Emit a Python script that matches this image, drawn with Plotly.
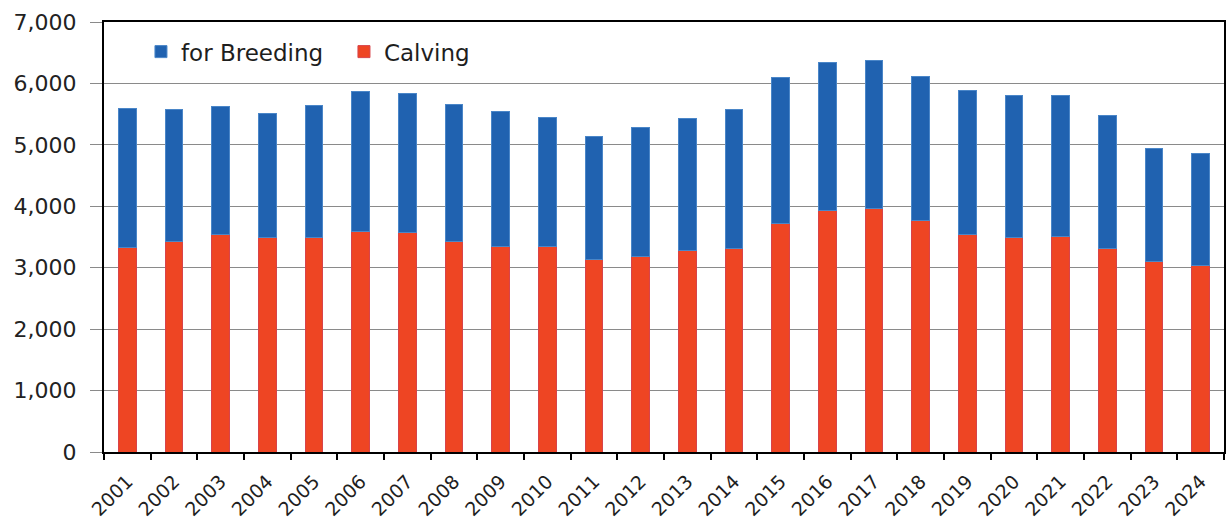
import plotly.graph_objects as go

# Cattle numbers by year (thousand head)
years = [str(y) for y in range(2001, 2025)]
calving = [3330, 3430, 3540, 3500, 3500, 3590, 3570, 3420, 3340, 3350, 3130, 3190,
           3280, 3310, 3720, 3930, 3970, 3770, 3540, 3500, 3510, 3320, 3100, 3040]
breeding = [2260, 2140, 2090, 2010, 2140, 2280, 2270, 2240, 2210, 2090, 2000, 2100,
            2150, 2260, 2380, 2410, 2400, 2340, 2350, 2310, 2300, 2160, 1840, 1820]
y_ticks = [0, 1000, 2000, 3000, 4000, 5000, 6000, 7000]

BLUE = "#2062B0"
RED = "#EE4523"
FONT = "DejaVu Sans"

fig = go.Figure()
fig.add_trace(go.Bar(
    x=years, y=calving, name="Calving",
    marker=dict(color=RED, line=dict(color="#D8434A", width=1)),
))
fig.add_trace(go.Bar(
    x=years, y=breeding, name="for Breeding",
    marker=dict(color=BLUE, line=dict(color="#4A86C8", width=1)),
))

fig.update_layout(
    width=1227, height=520,
    barmode="stack", bargap=0.615,
    paper_bgcolor="white", plot_bgcolor="white",
    margin=dict(l=104, r=3, t=22, b=68, autoexpand=False),
    font=dict(family=FONT, color="#1e1e1e"),
    showlegend=True,
    legend=dict(
        orientation="h", traceorder="reversed",
        x=0.033, y=0.981, xanchor="left", yanchor="top",
        font=dict(family=FONT, size=23, color="#1e1e1e"),
        bgcolor="rgba(0,0,0,0)", entrywidth=158, entrywidthmode="pixels",
    ),
    xaxis=dict(
        type="category", tickangle=-45, automargin=False,
        showline=True, linecolor="black", linewidth=2, mirror=True,
        ticks="outside", tickson="boundaries", ticklen=6, tickcolor="black", tickwidth=1.5,
        tickfont=dict(family=FONT, size=19, color="#1e1e1e"),
        ticklabelstandoff=9,
        showgrid=False,
    ),
    yaxis=dict(
        range=[0, 7000], tickvals=y_ticks, tickformat=",", automargin=False,
        showline=True, linecolor="black", linewidth=2, mirror=True,
        ticks="outside", ticklen=12, tickcolor="#8a8a8a", tickwidth=1,
        showgrid=True, gridcolor="#8a8a8a", gridwidth=1,
        tickfont=dict(family=FONT, size=22, color="#222222"),
        ticklabelstandoff=9,
        zeroline=False,
    ),
)

fig.write_html("out.html")
